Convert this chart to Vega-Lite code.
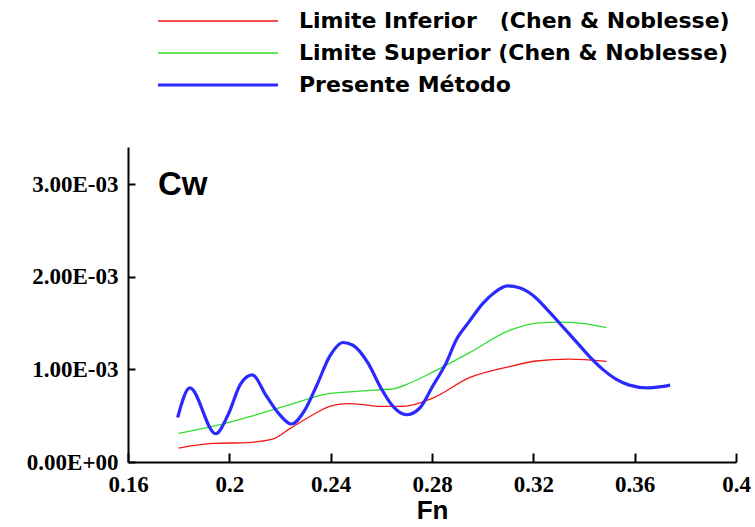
{
  "$schema": "https://vega.github.io/schema/vega-lite/v6.json",
  "width": 608,
  "height": 315,
  "autosize": "none",
  "padding": {"left": 128, "top": 147, "right": 19, "bottom": 65},
  "background": "white",
  "config": {
    "view": {"stroke": null},
    "axis": {
      "grid": false,
      "domainColor": "black",
      "domainWidth": 2,
      "tickColor": "black",
      "tickWidth": 2,
      "labelFont": "Liberation Serif",
      "labelFontWeight": "bold",
      "labelFontSize": 23,
      "labelColor": "black"
    },
    "legend": {
      "orient": "none",
      "legendX": 28,
      "legendY": -138,
      "padding": 0,
      "symbolType": "stroke",
      "symbolSize": 14400,
      "clipHeight": 24,
      "labelFont": "DejaVu Sans",
      "labelFontWeight": "bold",
      "labelFontSize": 22,
      "labelColor": "black",
      "labelOffset": 19,
      "rowPadding": 8,
      "labelLimit": 600
    }
  },
  "layer": [
    {
      "data": {
        "values": [
          {"serie": "Limite Inferior\u00a0\u00a0\u00a0(Chen & Noblesse)", "Fn": 0.18, "Cw": 0.00015},
          {"serie": "Limite Inferior\u00a0\u00a0\u00a0(Chen & Noblesse)", "Fn": 0.1936, "Cw": 0.0002},
          {"serie": "Limite Inferior\u00a0\u00a0\u00a0(Chen & Noblesse)", "Fn": 0.2068, "Cw": 0.00021},
          {"serie": "Limite Inferior\u00a0\u00a0\u00a0(Chen & Noblesse)", "Fn": 0.2173, "Cw": 0.00025},
          {"serie": "Limite Inferior\u00a0\u00a0\u00a0(Chen & Noblesse)", "Fn": 0.2239, "Cw": 0.00036},
          {"serie": "Limite Inferior\u00a0\u00a0\u00a0(Chen & Noblesse)", "Fn": 0.233, "Cw": 0.00051},
          {"serie": "Limite Inferior\u00a0\u00a0\u00a0(Chen & Noblesse)", "Fn": 0.2396, "Cw": 0.0006},
          {"serie": "Limite Inferior\u00a0\u00a0\u00a0(Chen & Noblesse)", "Fn": 0.2462, "Cw": 0.00063},
          {"serie": "Limite Inferior\u00a0\u00a0\u00a0(Chen & Noblesse)", "Fn": 0.2527, "Cw": 0.00062},
          {"serie": "Limite Inferior\u00a0\u00a0\u00a0(Chen & Noblesse)", "Fn": 0.2593, "Cw": 0.0006},
          {"serie": "Limite Inferior\u00a0\u00a0\u00a0(Chen & Noblesse)", "Fn": 0.2685, "Cw": 0.0006},
          {"serie": "Limite Inferior\u00a0\u00a0\u00a0(Chen & Noblesse)", "Fn": 0.2803, "Cw": 0.00069},
          {"serie": "Limite Inferior\u00a0\u00a0\u00a0(Chen & Noblesse)", "Fn": 0.2948, "Cw": 0.00091},
          {"serie": "Limite Inferior\u00a0\u00a0\u00a0(Chen & Noblesse)", "Fn": 0.3106, "Cw": 0.00103},
          {"serie": "Limite Inferior\u00a0\u00a0\u00a0(Chen & Noblesse)", "Fn": 0.3211, "Cw": 0.00109},
          {"serie": "Limite Inferior\u00a0\u00a0\u00a0(Chen & Noblesse)", "Fn": 0.3342, "Cw": 0.00111},
          {"serie": "Limite Inferior\u00a0\u00a0\u00a0(Chen & Noblesse)", "Fn": 0.3489, "Cw": 0.001085},
          {"serie": "Limite Superior (Chen & Noblesse)", "Fn": 0.18, "Cw": 0.00031},
          {"serie": "Limite Superior (Chen & Noblesse)", "Fn": 0.1943, "Cw": 0.00039},
          {"serie": "Limite Superior (Chen & Noblesse)", "Fn": 0.2081, "Cw": 0.00049},
          {"serie": "Limite Superior (Chen & Noblesse)", "Fn": 0.2239, "Cw": 0.00062},
          {"serie": "Limite Superior (Chen & Noblesse)", "Fn": 0.2396, "Cw": 0.00074},
          {"serie": "Limite Superior (Chen & Noblesse)", "Fn": 0.2488, "Cw": 0.00076},
          {"serie": "Limite Superior (Chen & Noblesse)", "Fn": 0.2593, "Cw": 0.00078},
          {"serie": "Limite Superior (Chen & Noblesse)", "Fn": 0.2646, "Cw": 0.00079},
          {"serie": "Limite Superior (Chen & Noblesse)", "Fn": 0.2711, "Cw": 0.00085},
          {"serie": "Limite Superior (Chen & Noblesse)", "Fn": 0.2803, "Cw": 0.00097},
          {"serie": "Limite Superior (Chen & Noblesse)", "Fn": 0.2948, "Cw": 0.00118},
          {"serie": "Limite Superior (Chen & Noblesse)", "Fn": 0.3106, "Cw": 0.00142},
          {"serie": "Limite Superior (Chen & Noblesse)", "Fn": 0.3211, "Cw": 0.0015},
          {"serie": "Limite Superior (Chen & Noblesse)", "Fn": 0.3316, "Cw": 0.00151},
          {"serie": "Limite Superior (Chen & Noblesse)", "Fn": 0.3408, "Cw": 0.00149},
          {"serie": "Limite Superior (Chen & Noblesse)", "Fn": 0.3489, "Cw": 0.00145},
          {"serie": "Presente Método", "Fn": 0.1796, "Cw": 0.00048},
          {"serie": "Presente Método", "Fn": 0.1844, "Cw": 0.0008},
          {"serie": "Presente Método", "Fn": 0.1946, "Cw": 0.000305},
          {"serie": "Presente Método", "Fn": 0.1995, "Cw": 0.00051},
          {"serie": "Presente Método", "Fn": 0.2044, "Cw": 0.00084},
          {"serie": "Presente Método", "Fn": 0.209, "Cw": 0.00094},
          {"serie": "Presente Método", "Fn": 0.2147, "Cw": 0.00071},
          {"serie": "Presente Método", "Fn": 0.2196, "Cw": 0.00052},
          {"serie": "Presente Método", "Fn": 0.2245, "Cw": 0.00041},
          {"serie": "Presente Método", "Fn": 0.2298, "Cw": 0.00056},
          {"serie": "Presente Método", "Fn": 0.2344, "Cw": 0.00082},
          {"serie": "Presente Método", "Fn": 0.2396, "Cw": 0.00114},
          {"serie": "Presente Método", "Fn": 0.2449, "Cw": 0.00129},
          {"serie": "Presente Método", "Fn": 0.2488, "Cw": 0.00126},
          {"serie": "Presente Método", "Fn": 0.2547, "Cw": 0.00107},
          {"serie": "Presente Método", "Fn": 0.2598, "Cw": 0.0008},
          {"serie": "Presente Método", "Fn": 0.2646, "Cw": 0.0006},
          {"serie": "Presente Método", "Fn": 0.2699, "Cw": 0.00051},
          {"serie": "Presente Método", "Fn": 0.2751, "Cw": 0.00058},
          {"serie": "Presente Método", "Fn": 0.2803, "Cw": 0.00082},
          {"serie": "Presente Método", "Fn": 0.2856, "Cw": 0.00107},
          {"serie": "Presente Método", "Fn": 0.2896, "Cw": 0.00132},
          {"serie": "Presente Método", "Fn": 0.2948, "Cw": 0.00152},
          {"serie": "Presente Método", "Fn": 0.3, "Cw": 0.00171},
          {"serie": "Presente Método", "Fn": 0.3047, "Cw": 0.00183},
          {"serie": "Presente Método", "Fn": 0.3099, "Cw": 0.0019},
          {"serie": "Presente Método", "Fn": 0.3145, "Cw": 0.00188},
          {"serie": "Presente Método", "Fn": 0.3198, "Cw": 0.0018},
          {"serie": "Presente Método", "Fn": 0.3263, "Cw": 0.00162},
          {"serie": "Presente Método", "Fn": 0.3316, "Cw": 0.00146},
          {"serie": "Presente Método", "Fn": 0.3369, "Cw": 0.0013},
          {"serie": "Presente Método", "Fn": 0.3421, "Cw": 0.00114},
          {"serie": "Presente Método", "Fn": 0.3474, "Cw": 0.001},
          {"serie": "Presente Método", "Fn": 0.3526, "Cw": 0.000895},
          {"serie": "Presente Método", "Fn": 0.3579, "Cw": 0.00083},
          {"serie": "Presente Método", "Fn": 0.3651, "Cw": 0.0008},
          {"serie": "Presente Método", "Fn": 0.3697, "Cw": 0.00081},
          {"serie": "Presente Método", "Fn": 0.374, "Cw": 0.00083}
        ]
      },
      "mark": {"type": "line", "interpolate": "monotone"},
      "encoding": {
        "x": {
          "field": "Fn",
          "type": "quantitative",
          "scale": {"domain": [0.16, 0.4], "nice": false, "zero": false},
          "axis": {
            "values": [0.16, 0.2, 0.24, 0.28, 0.32, 0.36, 0.4],
            "format": "~g",
            "tickSize": -9,
            "labelPadding": 20,
            "labelFlush": false,
            "title": "Fn",
            "titleFont": "Liberation Sans",
            "titleFontSize": 26,
            "titleFontWeight": "bold",
            "titleColor": "black",
            "titlePadding": 1
          }
        },
        "y": {
          "field": "Cw",
          "type": "quantitative",
          "scale": {"domain": [0, 0.0034], "nice": false},
          "axis": {
            "values": [0, 0.001, 0.002, 0.003],
            "labelExpr": "datum.value == 0 ? '0.00E+00' : replace(format(datum.value, '.2e'), 'e-', 'E-0')",
            "tickSize": -7,
            "labelPadding": 17,
            "labelFlush": false,
            "title": null
          }
        },
        "color": {
          "field": "serie",
          "type": "nominal",
          "title": null,
          "scale": {
            "type": "ordinal",
            "domain": ["Limite Inferior\u00a0\u00a0\u00a0(Chen & Noblesse)", "Limite Superior (Chen & Noblesse)", "Presente Método"],
            "range": ["#f01818", "#30dd30", "#2a2aff"]
          }
        },
        "strokeWidth": {
          "field": "serie",
          "type": "nominal",
          "title": null,
          "scale": {
            "type": "ordinal",
            "domain": ["Limite Inferior\u00a0\u00a0\u00a0(Chen & Noblesse)", "Limite Superior (Chen & Noblesse)", "Presente Método"],
            "range": [1.3, 1.3, 3.2]
          }
        }
      }
    },
    {
      "data": {"values": [{}]},
      "mark": {"type": "text", "text": "Cw", "font": "Liberation Sans", "fontSize": 33, "fontWeight": "bold", "align": "left", "baseline": "alphabetic", "color": "black"},
      "encoding": {
        "x": {"datum": 0.1718},
        "y": {"datum": 0.002885}
      }
    }
  ]
}
